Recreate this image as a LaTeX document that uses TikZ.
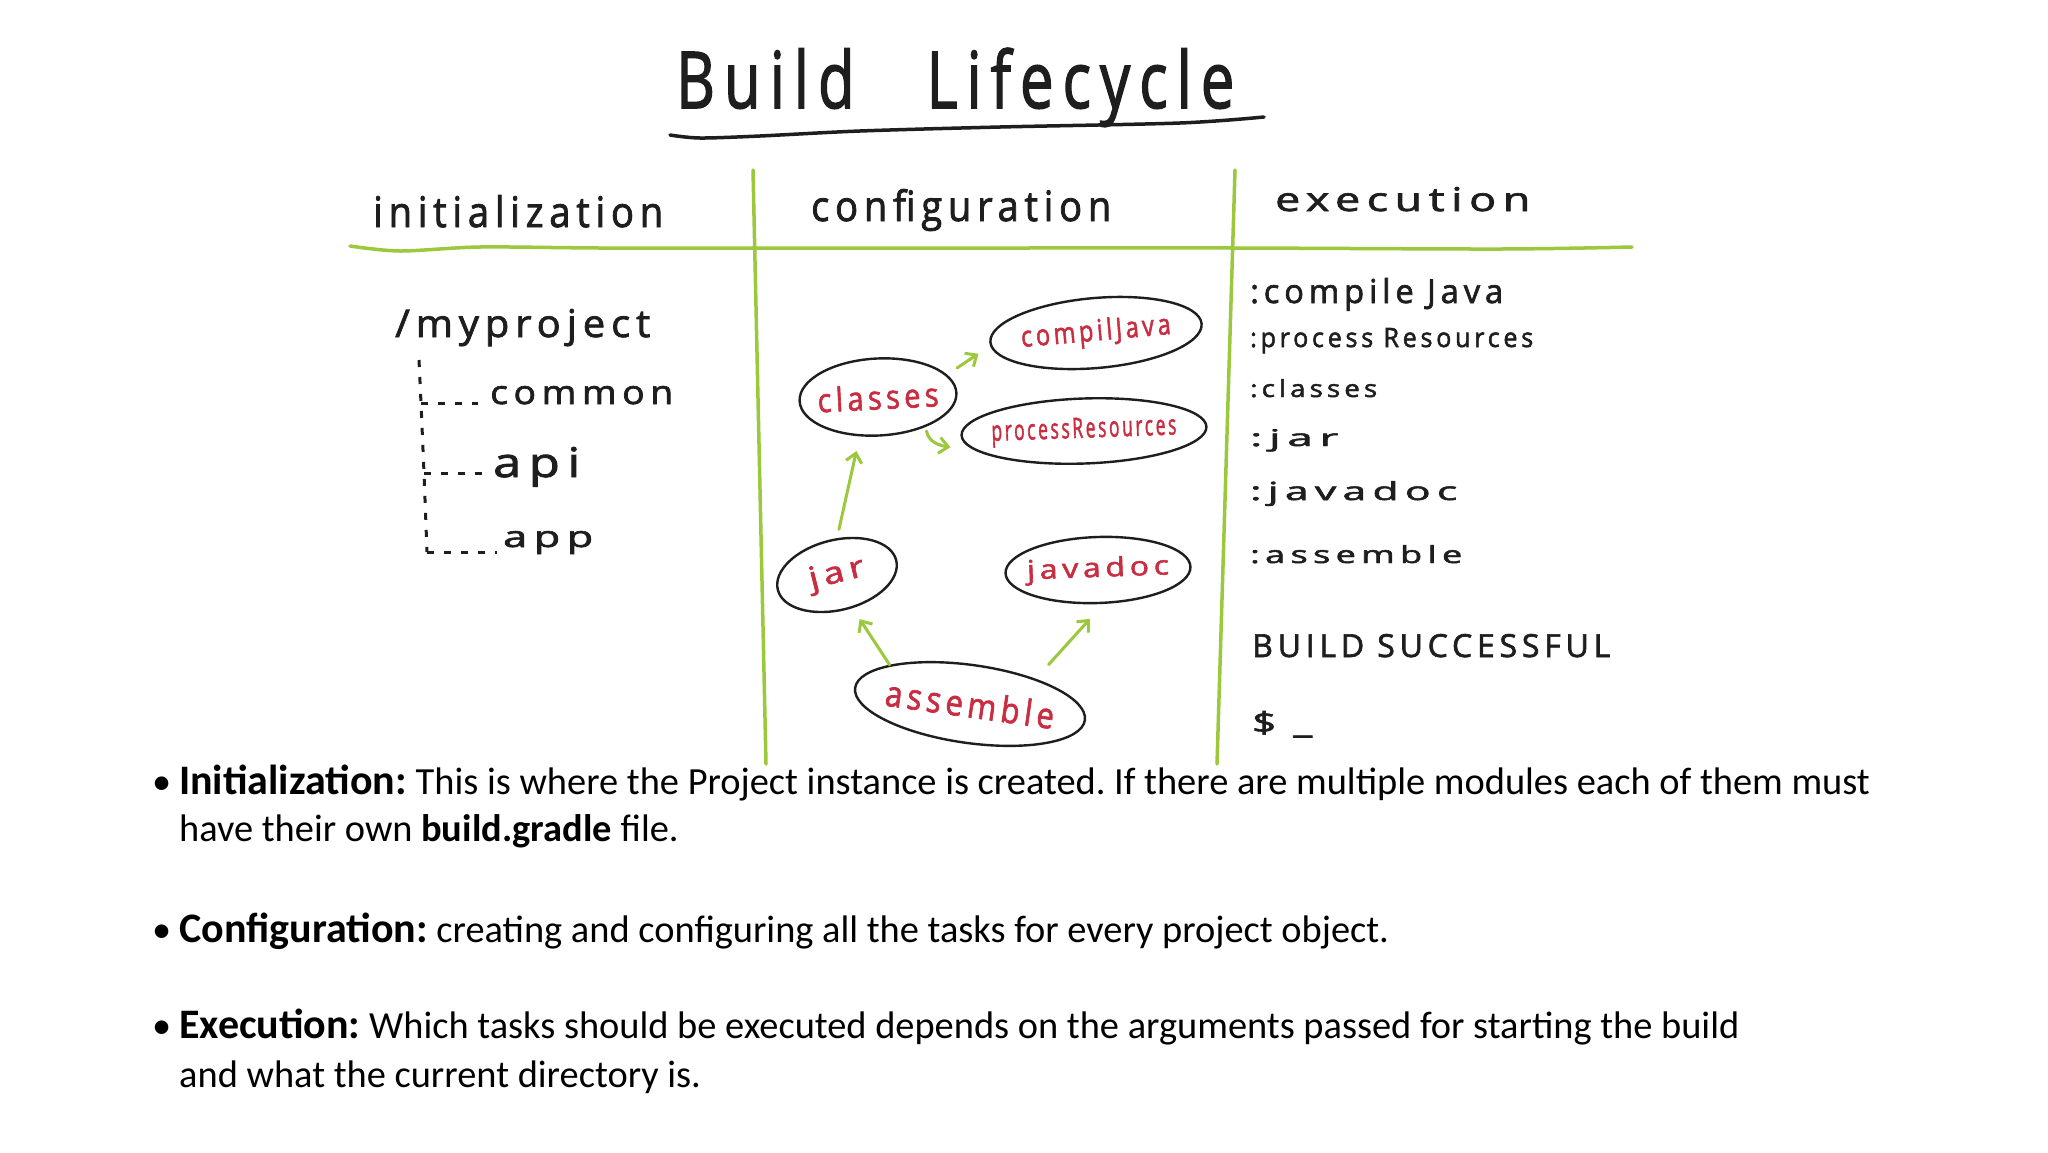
\documentclass[tikz,border=0pt]{standalone}
\usepackage{fontspec}
\setmainfont{Carlito}
\newfontfamily\hand[LetterSpace=15,FakeBold=2]{Open Sans}
\usepackage{graphicx}
\usetikzlibrary{shapes.geometric,arrows.meta}
\definecolor{lgreen}{RGB}{155,200,60}
\definecolor{hred}{RGB}{200,45,65}
\definecolor{ink}{RGB}{30,30,30}
\newcommand{\hwt}[3]{\resizebox{#1pt}{#2pt}{\hand #3}}
\frenchspacing
\begin{document}
\begin{tikzpicture}[x=1pt,y=-1pt,
  hw/.style={inner sep=0pt, text=ink, anchor=base west},
  task/.style={ellipse, draw=ink, line width=2.4pt, text=hred, inner sep=0pt},
  gline/.style={draw=lgreen, line width=3.5pt, line cap=round},
  garrow/.style={draw=lgreen, line width=3pt, line cap=round, -{Straight Barb[length=9pt,width=16pt]}},
  bul/.style={anchor=base west, inner sep=0pt, text=black, font=\fontsize{38.4}{46}\selectfont},
  treeline/.style={draw=ink, line width=3pt, dash pattern=on 7pt off 10pt},
  uline/.style={draw=ink, line width=3.5pt, line cap=round}
]
\fill[white] (0,0) rectangle (2048,1152);
\useasboundingbox (0,0) rectangle (2048,1152);

% title
\node[hw] (title) at (676,108) {\hwt{558}{60}{Build\hspace{1.2em}Lifecycle}};
\draw[uline] plot[smooth] coordinates {(670,135) (700,138) (760,136) (860,131) (1000,127) (1180,123) (1264,117)};

% grid lines
\draw[gline] plot[smooth] coordinates {(350,246) (400,251) (480,247) (600,248) (753,248) (1000,248) (1234,248) (1500,249) (1632,247)};
\draw[gline] (753,170) -- (766,764);
\draw[gline] (1235,170) -- (1217,764);

% column headers
\node[hw] (hinit) at (373,227) {\hwt{290}{32}{initialization}};
\node[hw] (hconf) at (811,221) {\hwt{300}{32}{configuration}};
\node[hw] (hexec) at (1275,211) {\hwt{255}{24}{execution}};

% project tree
\node[hw] (root) at (395,337) {\hwt{255}{28}{/myproject}};
\node[hw] (common) at (490,404) {\hwt{183}{18}{common}};
\node[hw] (api) at (493,477) {\hwt{87}{30}{api}};
\node[hw] (app) at (503,547) {\hwt{90}{16}{app}};
\coordinate (t0) at (419,360);
\coordinate (t1) at (421,403);
\coordinate (t2) at (424,473);
\coordinate (t3) at (427,552);
\draw[treeline] (t0) -- (t1) -- (t2) -- (t3);
\draw[treeline] (t1) -- ([xshift=-12pt]common.west |- t1);
\draw[treeline] (t2) -- ([xshift=-4pt]api.west |- t2);
\draw[treeline] (t3) -- ([xshift=-6pt]app.west |- t3);

% tasks
\node[task, minimum width=212pt, minimum height=70pt, rotate=5] (compil) at (1096,333) {\makebox[0pt]{\hwt{150}{22}{compilJava}}};
\node[task, minimum width=157pt, minimum height=77pt, rotate=3] (classes) at (878,397) {\makebox[0pt]{\hwt{121}{25}{classes}}};
\node[task, minimum width=245pt, minimum height=65pt, rotate=2] (proc) at (1084,431) {\makebox[0pt]{\hwt{185}{20}{processResources}}};
\node[task, minimum width=122pt, minimum height=70pt, rotate=14] (jar) at (837,575) {\makebox[0pt]{\hwt{56}{22}{jar}}};
\node[task, minimum width=185pt, minimum height=66pt, rotate=2] (javadoc) at (1098,570) {\makebox[0pt]{\hwt{142}{20}{javadoc}}};
\node[task, minimum width=232pt, minimum height=78pt, rotate=-8] (assemble) at (970,704) {\makebox[0pt]{\hwt{170}{27}{assemble}}};

% arrows
\draw[garrow, shorten <=12pt, shorten >=14pt] (classes.15) -- (compil.182);
\draw[garrow] ([shift={(-11,10)}]classes.-25) to[out=-80,in=170] ([shift={(-10,12)}]proc.west);
\draw[garrow, shorten <=9pt, shorten >=15pt] (jar.76) -- (classes.-118);
\draw[garrow, shorten >=13pt] (assemble.162) -- (jar.-79);
\draw[garrow, shorten <=19pt, shorten >=20pt] (assemble.29) -- (javadoc.-83);

% execution output
\node[hw] (e1) at (1250,303) {\hwt{253}{25}{:compile Java}};
\node[hw] (e2) at (1250,347) {\hwt{283}{19}{:process Resources}};
\node[hw] (e3) at (1250,397) {\hwt{127}{18}{:classes}};
\node[hw] (e4) at (1250,446) {\hwt{88}{17}{:jar}};
\node[hw] (e5) at (1250,500) {\hwt{207}{19}{:javadoc}};
\node[hw] (e6) at (1250,563) {\hwt{212}{18}{:assemble}};
\node[hw] (e7) at (1252,657) {\hwt{358}{23}{BUILD SUCCESSFUL}};
\node[hw] (e8) at (1252,733) {\hwt{60}{22}{\$ \_}};

% bullets
\node[bul] (d1) at (152,794) {•};
\node[bul] (b1) at (179,794) {{\fontsize{42}{50}\selectfont\bfseries Initialization:} This is where the Project instance is created. If there are multiple modules each of them must};
\node[bul] (b1b) at (179,841) {have their own \textbf{build.gradle} file.};
\node[bul] (d2) at (152,942) {•};
\node[bul] (b2) at (179,942) {{\fontsize{42}{50}\selectfont\bfseries Configuration:} creating and configuring all the tasks for every project object.};
\node[bul] (d3) at (152,1038) {•};
\node[bul] (b3) at (179,1038) {{\fontsize{42}{50}\selectfont\bfseries Execution:} Which tasks should be executed depends on the arguments passed for starting the build};
\node[bul] (b3b) at (179,1087) {and what the current directory is.};
\end{tikzpicture}
\end{document}
